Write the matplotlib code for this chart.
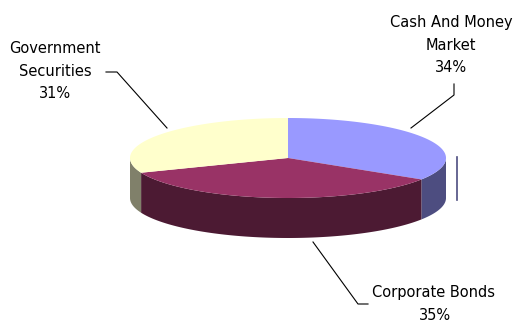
import numpy as np
import matplotlib
matplotlib.use("Agg")
import matplotlib.pyplot as plt
from matplotlib.patches import Polygon

labels = ["Cash And Money\nMarket", "Corporate Bonds", "Government\nSecurities"]
shares = [34, 35, 31]
top_colors = ["#9999FF", "#993366", "#FFFFCC"]
side_colors = ["#4D4D80", "#4C1A33", "#80806A"]

# pie geometry in pixel space (y grows downwards)
CX, CY, RX, RY, DEPTH = 288, 158, 158, 40, 40


def rim(a0, a1, dy=0.0, n=120):
    t = np.radians(np.linspace(a0, a1, n))
    return np.column_stack([CX + RX * np.sin(t), CY - RY * np.cos(t) + dy])


fig = plt.figure(figsize=(5.17, 3.25), dpi=100)
ax = fig.add_axes([0, 0, 1, 1])
ax.set_xlim(0, 517)
ax.set_ylim(325, 0)
ax.axis("off")

edges = np.concatenate([[0], np.cumsum(shares)]) / np.sum(shares) * 360.0

# outer walls (only the front half, 90..270 deg clockwise from top, is visible)
for a0, a1, c in zip(edges[:-1], edges[1:], side_colors):
    lo, hi = max(a0, 90), min(a1, 270)
    if hi <= lo:
        continue
    top = rim(lo, hi)
    bot = rim(hi, lo, DEPTH)
    ax.add_patch(Polygon(np.vstack([top, bot]), closed=True, fc=c, ec="none", zorder=1))

# top faces
for a0, a1, c in zip(edges[:-1], edges[1:], top_colors):
    pts = np.vstack([[[CX, CY]], rim(a0, a1)])
    ax.add_patch(Polygon(pts, closed=True, fc=c, ec="none", zorder=2))

# stray rendering line at the right of the pie
ax.plot([457, 457], [157, 200], color="#4D4D80", lw=1.2, zorder=1)

font = dict(family="DejaVu Sans", fontsize=10.5, color="black", linespacing=1.6)
lw = dict(color="black", lw=0.8, zorder=3)

# Cash And Money Market
ax.text(451, 45, f"{labels[0]}\n{shares[0]}%", ha="center", va="center", **font)
ax.plot([411, 454, 454], [128, 95, 84], **lw)

# Government Securities
ax.text(55, 71, f"{labels[2]}\n{shares[2]}%", ha="center", va="center", **font)
ax.plot([106, 117, 167], [72, 72, 128], **lw)

# Corporate Bonds
ax.text(433, 293, labels[1], ha="center", va="center", **font)
ax.text(435, 316, f"{shares[1]}%", ha="center", va="center", **font)
ax.plot([313, 358, 368], [242, 304, 304], **lw)

fig.savefig("out.png", dpi=100)
